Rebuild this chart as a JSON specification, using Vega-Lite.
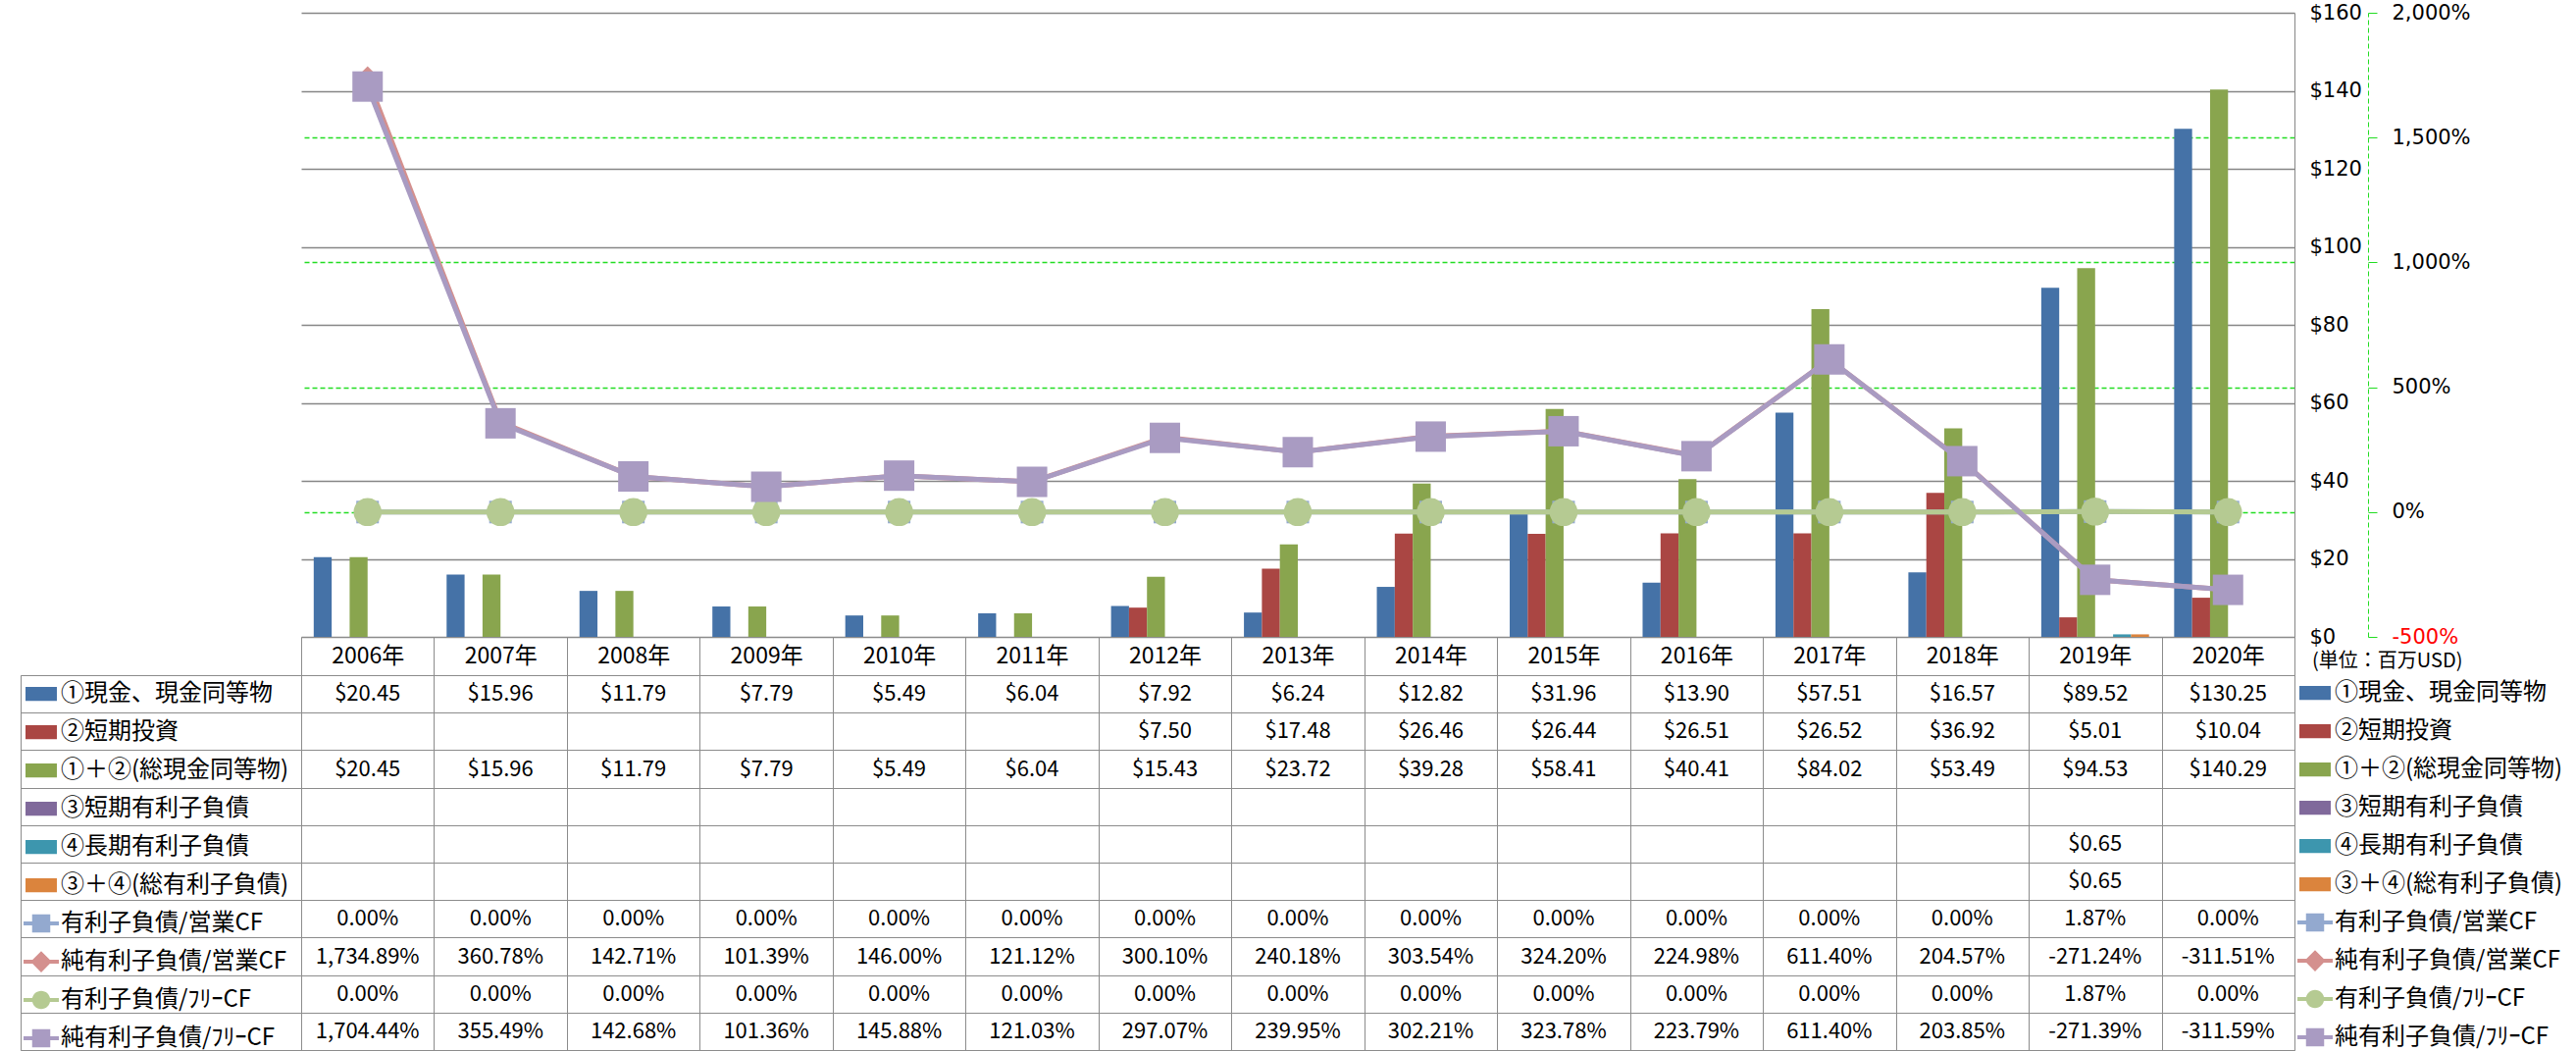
{
  "$schema": "https://vega.github.io/schema/vega-lite/v6.json",
  "padding": {"left": 20, "top": 2, "right": 5, "bottom": 0},
  "config": {
    "view": {"stroke": null},
    "font": "Noto Sans CJK JP",
    "locale": {"number": {"decimal": ".", "thousands": ",", "grouping": [3], "currency": ["$", ""], "minus": "-"}}
  },
  "resolve": {"scale": {"color": "independent", "shape": "independent", "size": "independent"}, "legend": {"color": "independent", "shape": "independent"}},
  "datasets": {
    "rows": [
      {"series": "①現金、現金同等物"}, {"series": "②短期投資"}, {"series": "①＋②(総現金同等物)"},
      {"series": "③短期有利子負債"}, {"series": "④長期有利子負債"}, {"series": "③＋④(総有利子負債)"},
      {"series": "有利子負債/営業CF"}, {"series": "純有利子負債/営業CF"}, {"series": "有利子負債/ﾌﾘｰCF"}, {"series": "純有利子負債/ﾌﾘｰCF"}
    ],
    "vals": [
      {"year": 2006, "series": "①現金、現金同等物", "value": 20.45},
      {"year": 2007, "series": "①現金、現金同等物", "value": 15.96},
      {"year": 2008, "series": "①現金、現金同等物", "value": 11.79},
      {"year": 2009, "series": "①現金、現金同等物", "value": 7.79},
      {"year": 2010, "series": "①現金、現金同等物", "value": 5.49},
      {"year": 2011, "series": "①現金、現金同等物", "value": 6.04},
      {"year": 2012, "series": "①現金、現金同等物", "value": 7.92},
      {"year": 2013, "series": "①現金、現金同等物", "value": 6.24},
      {"year": 2014, "series": "①現金、現金同等物", "value": 12.82},
      {"year": 2015, "series": "①現金、現金同等物", "value": 31.96},
      {"year": 2016, "series": "①現金、現金同等物", "value": 13.90},
      {"year": 2017, "series": "①現金、現金同等物", "value": 57.51},
      {"year": 2018, "series": "①現金、現金同等物", "value": 16.57},
      {"year": 2019, "series": "①現金、現金同等物", "value": 89.52},
      {"year": 2020, "series": "①現金、現金同等物", "value": 130.25},
      {"year": 2012, "series": "②短期投資", "value": 7.50},
      {"year": 2013, "series": "②短期投資", "value": 17.48},
      {"year": 2014, "series": "②短期投資", "value": 26.46},
      {"year": 2015, "series": "②短期投資", "value": 26.44},
      {"year": 2016, "series": "②短期投資", "value": 26.51},
      {"year": 2017, "series": "②短期投資", "value": 26.52},
      {"year": 2018, "series": "②短期投資", "value": 36.92},
      {"year": 2019, "series": "②短期投資", "value": 5.01},
      {"year": 2020, "series": "②短期投資", "value": 10.04},
      {"year": 2006, "series": "①＋②(総現金同等物)", "value": 20.45},
      {"year": 2007, "series": "①＋②(総現金同等物)", "value": 15.96},
      {"year": 2008, "series": "①＋②(総現金同等物)", "value": 11.79},
      {"year": 2009, "series": "①＋②(総現金同等物)", "value": 7.79},
      {"year": 2010, "series": "①＋②(総現金同等物)", "value": 5.49},
      {"year": 2011, "series": "①＋②(総現金同等物)", "value": 6.04},
      {"year": 2012, "series": "①＋②(総現金同等物)", "value": 15.43},
      {"year": 2013, "series": "①＋②(総現金同等物)", "value": 23.72},
      {"year": 2014, "series": "①＋②(総現金同等物)", "value": 39.28},
      {"year": 2015, "series": "①＋②(総現金同等物)", "value": 58.41},
      {"year": 2016, "series": "①＋②(総現金同等物)", "value": 40.41},
      {"year": 2017, "series": "①＋②(総現金同等物)", "value": 84.02},
      {"year": 2018, "series": "①＋②(総現金同等物)", "value": 53.49},
      {"year": 2019, "series": "①＋②(総現金同等物)", "value": 94.53},
      {"year": 2020, "series": "①＋②(総現金同等物)", "value": 140.29},
      {"year": 2019, "series": "④長期有利子負債", "value": 0.65},
      {"year": 2019, "series": "③＋④(総有利子負債)", "value": 0.65},
      {"year": 2006, "series": "有利子負債/営業CF", "value": 0},
      {"year": 2007, "series": "有利子負債/営業CF", "value": 0},
      {"year": 2008, "series": "有利子負債/営業CF", "value": 0},
      {"year": 2009, "series": "有利子負債/営業CF", "value": 0},
      {"year": 2010, "series": "有利子負債/営業CF", "value": 0},
      {"year": 2011, "series": "有利子負債/営業CF", "value": 0},
      {"year": 2012, "series": "有利子負債/営業CF", "value": 0},
      {"year": 2013, "series": "有利子負債/営業CF", "value": 0},
      {"year": 2014, "series": "有利子負債/営業CF", "value": 0},
      {"year": 2015, "series": "有利子負債/営業CF", "value": 0},
      {"year": 2016, "series": "有利子負債/営業CF", "value": 0},
      {"year": 2017, "series": "有利子負債/営業CF", "value": 0},
      {"year": 2018, "series": "有利子負債/営業CF", "value": 0},
      {"year": 2019, "series": "有利子負債/営業CF", "value": 0.0187},
      {"year": 2020, "series": "有利子負債/営業CF", "value": 0},
      {"year": 2006, "series": "純有利子負債/営業CF", "value": 17.3489},
      {"year": 2007, "series": "純有利子負債/営業CF", "value": 3.6078},
      {"year": 2008, "series": "純有利子負債/営業CF", "value": 1.4271},
      {"year": 2009, "series": "純有利子負債/営業CF", "value": 1.0139},
      {"year": 2010, "series": "純有利子負債/営業CF", "value": 1.46},
      {"year": 2011, "series": "純有利子負債/営業CF", "value": 1.2112},
      {"year": 2012, "series": "純有利子負債/営業CF", "value": 3.001},
      {"year": 2013, "series": "純有利子負債/営業CF", "value": 2.4018},
      {"year": 2014, "series": "純有利子負債/営業CF", "value": 3.0354},
      {"year": 2015, "series": "純有利子負債/営業CF", "value": 3.242},
      {"year": 2016, "series": "純有利子負債/営業CF", "value": 2.2498},
      {"year": 2017, "series": "純有利子負債/営業CF", "value": 6.114},
      {"year": 2018, "series": "純有利子負債/営業CF", "value": 2.0457},
      {"year": 2019, "series": "純有利子負債/営業CF", "value": -2.7124},
      {"year": 2020, "series": "純有利子負債/営業CF", "value": -3.1151},
      {"year": 2006, "series": "有利子負債/ﾌﾘｰCF", "value": 0},
      {"year": 2007, "series": "有利子負債/ﾌﾘｰCF", "value": 0},
      {"year": 2008, "series": "有利子負債/ﾌﾘｰCF", "value": 0},
      {"year": 2009, "series": "有利子負債/ﾌﾘｰCF", "value": 0},
      {"year": 2010, "series": "有利子負債/ﾌﾘｰCF", "value": 0},
      {"year": 2011, "series": "有利子負債/ﾌﾘｰCF", "value": 0},
      {"year": 2012, "series": "有利子負債/ﾌﾘｰCF", "value": 0},
      {"year": 2013, "series": "有利子負債/ﾌﾘｰCF", "value": 0},
      {"year": 2014, "series": "有利子負債/ﾌﾘｰCF", "value": 0},
      {"year": 2015, "series": "有利子負債/ﾌﾘｰCF", "value": 0},
      {"year": 2016, "series": "有利子負債/ﾌﾘｰCF", "value": 0},
      {"year": 2017, "series": "有利子負債/ﾌﾘｰCF", "value": 0},
      {"year": 2018, "series": "有利子負債/ﾌﾘｰCF", "value": 0},
      {"year": 2019, "series": "有利子負債/ﾌﾘｰCF", "value": 0.0187},
      {"year": 2020, "series": "有利子負債/ﾌﾘｰCF", "value": 0},
      {"year": 2006, "series": "純有利子負債/ﾌﾘｰCF", "value": 17.0444},
      {"year": 2007, "series": "純有利子負債/ﾌﾘｰCF", "value": 3.5549},
      {"year": 2008, "series": "純有利子負債/ﾌﾘｰCF", "value": 1.4268},
      {"year": 2009, "series": "純有利子負債/ﾌﾘｰCF", "value": 1.0136},
      {"year": 2010, "series": "純有利子負債/ﾌﾘｰCF", "value": 1.4588},
      {"year": 2011, "series": "純有利子負債/ﾌﾘｰCF", "value": 1.2103},
      {"year": 2012, "series": "純有利子負債/ﾌﾘｰCF", "value": 2.9707},
      {"year": 2013, "series": "純有利子負債/ﾌﾘｰCF", "value": 2.3995},
      {"year": 2014, "series": "純有利子負債/ﾌﾘｰCF", "value": 3.0221},
      {"year": 2015, "series": "純有利子負債/ﾌﾘｰCF", "value": 3.2378},
      {"year": 2016, "series": "純有利子負債/ﾌﾘｰCF", "value": 2.2379},
      {"year": 2017, "series": "純有利子負債/ﾌﾘｰCF", "value": 6.114},
      {"year": 2018, "series": "純有利子負債/ﾌﾘｰCF", "value": 2.0385},
      {"year": 2019, "series": "純有利子負債/ﾌﾘｰCF", "value": -2.7139},
      {"year": 2020, "series": "純有利子負債/ﾌﾘｰCF", "value": -3.1159}
    ]
  },
  "columns": 3,
  "bounds": "flush",
  "align": "each",
  "spacing": {"row": 39, "column": 0},
  "concat": [
    {
      "width": 286, "height": 636,
      "data": {"values": [{}]},
      "mark": {"type": "point", "opacity": 0},
      "encoding": {}
    },
    {
      "width": 2032, "height": 636,
      "data": {"name": "vals"},
      "layer": [
        {
          "transform": [{"filter": {"field": "series", "oneOf": ["①現金、現金同等物", "②短期投資", "①＋②(総現金同等物)", "③短期有利子負債", "④長期有利子負債", "③＋④(総有利子負債)"]}}],
          "mark": {"type": "bar"},
          "encoding": {
            "x": {"field": "year", "type": "ordinal", "scale": {"paddingInner": 0, "paddingOuter": 0},
              "axis": {"orient": "bottom", "title": null, "labelExpr": "datum.label ? datum.label + '年' : ''", "labelAngle": 0, "tickBand": "extent", "tickSize": 39, "tickColor": "#8c8c8c", "domainColor": "#8c8c8c", "labelFont": "Noto Sans CJK JP", "labelFontSize": 23, "labelColor": "black", "labelPadding": -19.5, "labelBaseline": "middle", "grid": false}},
            "xOffset": {"field": "series", "type": "nominal", "scale": {"domain": ["①現金、現金同等物", "②短期投資", "①＋②(総現金同等物)", "③短期有利子負債", "④長期有利子負債", "③＋④(総有利子負債)"], "paddingInner": 0, "paddingOuter": 0.7}},
            "y": {"field": "value", "type": "quantitative", "scale": {"domain": [0, 160], "nice": false},
              "axis": {"orient": "right", "title": null, "format": "$,.0f", "values": [0, 20, 40, 60, 80, 100, 120, 140, 160], "grid": true, "gridColor": "#868686", "gridWidth": 1.3, "domain": true, "domainColor": "#868686", "ticks": false, "tickSize": 0, "labelPadding": 15, "labelFont": "DejaVu Sans", "labelFontSize": 21, "labelColor": "black", "labelFlush": false}},
            "color": {"field": "series", "type": "nominal", "legend": null,
              "scale": {"domain": ["①現金、現金同等物", "②短期投資", "①＋②(総現金同等物)", "③短期有利子負債", "④長期有利子負債", "③＋④(総有利子負債)", "有利子負債/営業CF", "純有利子負債/営業CF", "有利子負債/ﾌﾘｰCF", "純有利子負債/ﾌﾘｰCF"],
                "range": ["#4572A7", "#AA4643", "#89A54E", "#80699B", "#3D96AE", "#DB843D", "#93A9CF", "#D4908E", "#B5CA92", "#A99BC2"]}}
          }
        },
        {
          "transform": [{"filter": {"field": "series", "oneOf": ["有利子負債/営業CF", "純有利子負債/営業CF", "有利子負債/ﾌﾘｰCF", "純有利子負債/ﾌﾘｰCF"]}}],
          "encoding": {
            "x": {"field": "year", "type": "ordinal"},
            "y": {"field": "value", "type": "quantitative", "scale": {"domain": [-5, 20], "nice": false},
              "axis": {"orient": "right", "offset": 75, "title": null, "format": ",.0%", "values": [-5, 0, 5, 10, 15, 20], "grid": true, "gridColor": "#22DD22", "gridDash": [5, 3], "gridWidth": 1.3,
                "gridOpacity": {"condition": {"test": "datum.value == 20 || datum.value == -5", "value": 0}, "value": 1},
                "domain": true, "domainColor": "#22DD22", "domainDash": [5, 3], "tickColor": "#22DD22", "tickSize": 9, "labelPadding": 15, "labelFont": "DejaVu Sans", "labelFontSize": 21, "labelFlush": false,
                "labelColor": {"condition": {"test": "datum.value < 0", "value": "#FF0000"}, "value": "black"}}},
            "color": {"field": "series", "type": "nominal", "legend": null}
          },
          "layer": [
            {"mark": {"type": "line", "strokeWidth": 5}},
            {"mark": {"type": "point", "filled": true, "opacity": 1},
              "encoding": {
                "shape": {"field": "series", "type": "nominal", "legend": null, "scale": {"domain": ["有利子負債/営業CF", "純有利子負債/営業CF", "有利子負債/ﾌﾘｰCF", "純有利子負債/ﾌﾘｰCF"], "range": ["square", "diamond", "circle", "square"]}},
                "size": {"field": "series", "type": "nominal", "legend": null, "scale": {"domain": ["有利子負債/営業CF", "純有利子負債/営業CF", "有利子負債/ﾌﾘｰCF", "純有利子負債/ﾌﾘｰCF"], "range": [529, 961, 484, 484]}}
              }}
          ]
        }
      ],
      "resolve": {"scale": {"y": "independent"}}
    },
    {
      "width": 283, "height": 636,
      "data": {"values": [{}]},
      "mark": {"type": "point", "opacity": 0},
      "encoding": {}
    },
    {
      "width": 286, "height": 382,
      "view": {"stroke": "#8c8c8c"},
      "data": {"name": "rows"},
      "mark": {"type": "point", "filled": true, "opacity": 0, "size": 5184},
      "encoding": {
        "y": {"field": "series", "type": "nominal", "scale": {"domain": ["①現金、現金同等物", "②短期投資", "①＋②(総現金同等物)", "③短期有利子負債", "④長期有利子負債", "③＋④(総有利子負債)", "有利子負債/営業CF", "純有利子負債/営業CF", "有利子負債/ﾌﾘｰCF", "純有利子負債/ﾌﾘｰCF"], "paddingInner": 0, "paddingOuter": 0},
          "axis": {"title": null, "labels": false, "ticks": false, "domain": false, "grid": true, "tickBand": "extent", "gridColor": "#8c8c8c"}},
        "color": {"field": "series", "type": "nominal",
          "scale": {"domain": ["①現金、現金同等物", "②短期投資", "①＋②(総現金同等物)", "③短期有利子負債", "④長期有利子負債", "③＋④(総有利子負債)", "有利子負債/営業CF", "純有利子負債/営業CF", "有利子負債/ﾌﾘｰCF", "純有利子負債/ﾌﾘｰCF"],
            "range": ["#4572A7", "#AA4643", "#89A54E", "#80699B", "#3D96AE", "#DB843D", "#93A9CF", "#D4908E", "#B5CA92", "#A99BC2"]},
          "legend": {"orient": "none", "legendX": 3, "legendY": 0, "title": null, "symbolSize": 5184, "symbolStrokeWidth": 0, "symbolOpacity": 1, "clipHeight": 38.2, "rowPadding": 0, "labelFont": "Noto Sans CJK JP", "labelFontSize": 24, "labelColor": "black", "labelOffset": -34, "labelLimit": 400}},
        "shape": {"field": "series", "type": "nominal",
          "scale": {"domain": ["①現金、現金同等物", "②短期投資", "①＋②(総現金同等物)", "③短期有利子負債", "④長期有利子負債", "③＋④(総有利子負債)", "有利子負債/営業CF", "純有利子負債/営業CF", "有利子負債/ﾌﾘｰCF", "純有利子負債/ﾌﾘｰCF"],
            "range": ["M-0.944,-0.2H-0.056V0.2H-0.944Z", "M-0.944,-0.2H-0.056V0.2H-0.944Z", "M-0.944,-0.2H-0.056V0.2H-0.944Z", "M-0.944,-0.2H-0.056V0.2H-0.944Z", "M-0.944,-0.2H-0.056V0.2H-0.944Z", "M-0.944,-0.2H-0.056V0.2H-0.944Z",
              "M-1,-0.055H0V0.055H-1Z M-0.757,-0.257H-0.243V0.257H-0.757Z", "M-1,-0.055H0V0.055H-1Z M-0.5,-0.3L-0.2,0L-0.5,0.3L-0.8,0Z", "M-1,-0.055H0V0.055H-1Z M-0.757,0A0.257,0.257 0 1,1 -0.243,0A0.257,0.257 0 1,1 -0.757,0Z", "M-1,-0.055H0V0.055H-1Z M-0.757,-0.257H-0.243V0.257H-0.757Z"]},
          "legend": {"orient": "none", "legendX": 3, "legendY": 0, "title": null, "symbolSize": 5184, "symbolStrokeWidth": 0, "symbolOpacity": 1, "clipHeight": 38.2, "rowPadding": 0, "labelFont": "Noto Sans CJK JP", "labelFontSize": 24, "labelColor": "black", "labelOffset": -34, "labelLimit": 400}}
      }
    },
    {
      "width": 2032, "height": 382,
      "view": {"stroke": "#8c8c8c"},
      "data": {"name": "vals"},
      "encoding": {
        "x": {"field": "year", "type": "ordinal", "scale": {"paddingInner": 0, "paddingOuter": 0},
          "axis": {"orient": "top", "title": null, "labels": false, "ticks": false, "domain": false, "grid": true, "tickBand": "extent", "gridColor": "#8c8c8c"}},
        "y": {"field": "series", "type": "nominal", "scale": {"domain": ["①現金、現金同等物", "②短期投資", "①＋②(総現金同等物)", "③短期有利子負債", "④長期有利子負債", "③＋④(総有利子負債)", "有利子負債/営業CF", "純有利子負債/営業CF", "有利子負債/ﾌﾘｰCF", "純有利子負債/ﾌﾘｰCF"], "paddingInner": 0, "paddingOuter": 0},
          "axis": {"title": null, "labels": false, "ticks": false, "domain": false, "grid": true, "tickBand": "extent", "gridColor": "#8c8c8c"}}
      },
      "layer": [
        {
          "transform": [{"filter": {"field": "series", "oneOf": ["①現金、現金同等物", "②短期投資", "①＋②(総現金同等物)", "③短期有利子負債", "④長期有利子負債", "③＋④(総有利子負債)"]}}],
          "mark": {"type": "text", "font": "Noto Sans CJK JP", "fontSize": 22, "color": "black"},
          "encoding": {"text": {"field": "value", "type": "quantitative", "format": "$,.2f"}}
        },
        {
          "transform": [{"filter": {"field": "series", "oneOf": ["有利子負債/営業CF", "純有利子負債/営業CF", "有利子負債/ﾌﾘｰCF", "純有利子負債/ﾌﾘｰCF"]}}],
          "mark": {"type": "text", "font": "Noto Sans CJK JP", "fontSize": 22, "color": "black"},
          "encoding": {"text": {"field": "value", "type": "quantitative", "format": ",.2%"}}
        }
      ]
    },
    {
      "width": 283, "height": 382,
      "data": {"name": "rows"},
      "mark": {"type": "point", "filled": true, "opacity": 0, "size": 5184},
      "encoding": {
        "y": {"field": "series", "type": "nominal", "axis": null, "scale": {"domain": ["①現金、現金同等物", "②短期投資", "①＋②(総現金同等物)", "③短期有利子負債", "④長期有利子負債", "③＋④(総有利子負債)", "有利子負債/営業CF", "純有利子負債/営業CF", "有利子負債/ﾌﾘｰCF", "純有利子負債/ﾌﾘｰCF"], "paddingInner": 0, "paddingOuter": 0}},
        "color": {"field": "series", "type": "nominal",
          "scale": {"domain": ["①現金、現金同等物", "②短期投資", "①＋②(総現金同等物)", "③短期有利子負債", "④長期有利子負債", "③＋④(総有利子負債)", "有利子負債/営業CF", "純有利子負債/営業CF", "有利子負債/ﾌﾘｰCF", "純有利子負債/ﾌﾘｰCF"],
            "range": ["#4572A7", "#AA4643", "#89A54E", "#80699B", "#3D96AE", "#DB843D", "#93A9CF", "#D4908E", "#B5CA92", "#A99BC2"]},
          "legend": {"orient": "none", "legendX": 3, "legendY": -24, "title": "\u2800(単位：百万USD)", "titleFont": "Noto Sans CJK JP", "titleFontSize": 20, "titleFontWeight": "normal", "titleColor": "black", "titlePadding": 3, "titleLimit": 400, "symbolSize": 5184, "symbolStrokeWidth": 0, "symbolOpacity": 1, "clipHeight": 38.2, "rowPadding": 0, "labelFont": "Noto Sans CJK JP", "labelFontSize": 24, "labelColor": "black", "labelOffset": -34, "labelLimit": 400}},
        "shape": {"field": "series", "type": "nominal",
          "scale": {"domain": ["①現金、現金同等物", "②短期投資", "①＋②(総現金同等物)", "③短期有利子負債", "④長期有利子負債", "③＋④(総有利子負債)", "有利子負債/営業CF", "純有利子負債/営業CF", "有利子負債/ﾌﾘｰCF", "純有利子負債/ﾌﾘｰCF"],
            "range": ["M-0.944,-0.2H-0.056V0.2H-0.944Z", "M-0.944,-0.2H-0.056V0.2H-0.944Z", "M-0.944,-0.2H-0.056V0.2H-0.944Z", "M-0.944,-0.2H-0.056V0.2H-0.944Z", "M-0.944,-0.2H-0.056V0.2H-0.944Z", "M-0.944,-0.2H-0.056V0.2H-0.944Z",
              "M-1,-0.055H0V0.055H-1Z M-0.757,-0.257H-0.243V0.257H-0.757Z", "M-1,-0.055H0V0.055H-1Z M-0.5,-0.3L-0.2,0L-0.5,0.3L-0.8,0Z", "M-1,-0.055H0V0.055H-1Z M-0.757,0A0.257,0.257 0 1,1 -0.243,0A0.257,0.257 0 1,1 -0.757,0Z", "M-1,-0.055H0V0.055H-1Z M-0.757,-0.257H-0.243V0.257H-0.757Z"]},
          "legend": {"orient": "none", "legendX": 3, "legendY": -24, "title": "\u2800(単位：百万USD)", "titleFont": "Noto Sans CJK JP", "titleFontSize": 20, "titleFontWeight": "normal", "titleColor": "black", "titlePadding": 3, "titleLimit": 400, "symbolSize": 5184, "symbolStrokeWidth": 0, "symbolOpacity": 1, "clipHeight": 38.2, "rowPadding": 0, "labelFont": "Noto Sans CJK JP", "labelFontSize": 24, "labelColor": "black", "labelOffset": -34, "labelLimit": 400}}
      }
    }
  ]
}
